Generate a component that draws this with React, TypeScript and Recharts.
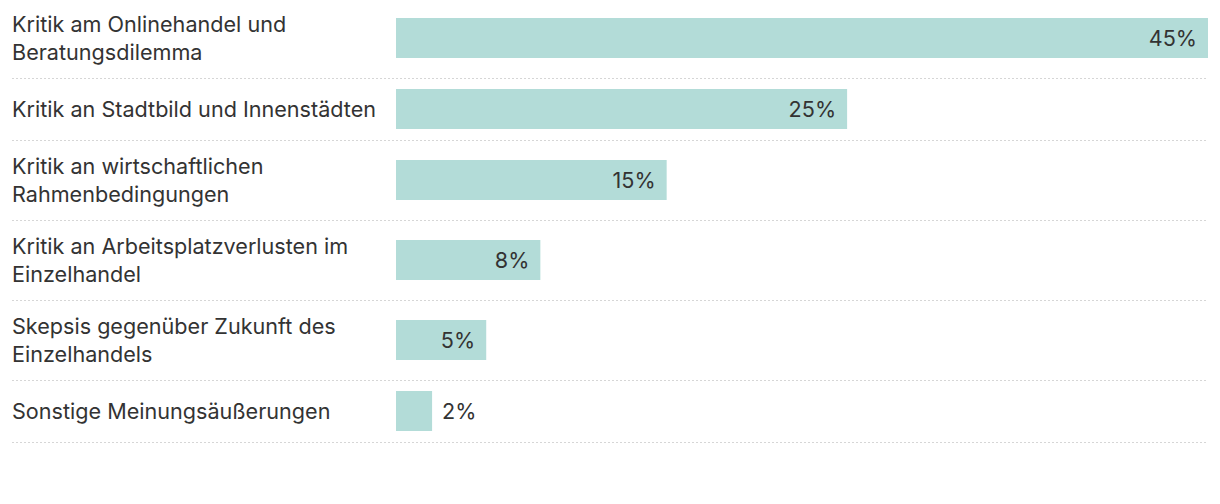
import React from "react";
import { BarChart, Bar, XAxis, YAxis, LabelList } from "recharts";

const categories: string[] = [
  "Kritik am Onlinehandel und\nBeratungsdilemma",
  "Kritik an Stadtbild und Innenstädten",
  "Kritik an wirtschaftlichen\nRahmenbedingungen",
  "Kritik an Arbeitsplatzverlusten im\nEinzelhandel",
  "Skepsis gegenüber Zukunft des\nEinzelhandels",
  "Sonstige Meinungsäußerungen",
];
const values: number[] = [45, 25, 15, 8, 5, 2];
const maxValue = 45;

const BAR_COLOR = "#b3dcd8";
const TEXT_COLOR = "#333333";
const FONT = "Inter, 'Noto Sans', sans-serif";
const FONT_SIZE = 21.6;
const LINE_H = 28;
const WIDTH = 1220;

const CategoryTick = (props: any) => {
  const { y, payload } = props;
  const lines = String(payload.value).split("\n");
  const first = -((lines.length - 1) / 2) * LINE_H;
  return (
    <text x={12} y={y} fill={TEXT_COLOR} fontSize={FONT_SIZE} fontFamily={FONT} textAnchor="start">
      {lines.map((l, i) => (
        <tspan key={i} x={12} dy={i === 0 ? first + 7.5 : LINE_H}>
          {l}
        </tspan>
      ))}
    </text>
  );
};

const ValueLabel = (props: any) => {
  const { x, y, width, height, value } = props;
  const inside = width > 60;
  const tx = inside ? x + width - 11 : x + width + 10;
  return (
    <text
      x={tx}
      y={y + height / 2 + 7.5}
      fill={TEXT_COLOR}
      fontSize={FONT_SIZE}
      fontFamily={FONT}
      textAnchor={inside ? "end" : "start"}
    >
      {value}%
    </text>
  );
};

const Row = ({ name, value }: { name: string; value: number }) => {
  const twoLine = name.includes("\n");
  const h = twoLine ? 80 : 62;
  return (
    <div style={{ position: "relative", height: h, width: WIDTH }}>
      <BarChart
        width={WIDTH}
        height={h}
        data={[{ name, value }]}
        layout="vertical"
        margin={{ top: 0, right: 12, bottom: 0, left: 0 }}
      >
        <XAxis type="number" domain={[0, maxValue]} hide />
        <YAxis
          type="category"
          dataKey="name"
          width={396}
          axisLine={false}
          tickLine={false}
          tick={<CategoryTick />}
          interval={0}
        />
        <Bar dataKey="value" fill={BAR_COLOR} barSize={40} isAnimationActive={false}>
          <LabelList dataKey="value" content={<ValueLabel />} />
        </Bar>
      </BarChart>
      <div
        style={{
          position: "absolute",
          left: 12,
          right: 12,
          bottom: -1,
          height: 1,
          backgroundImage: "repeating-linear-gradient(to right, #d6d6d6 0px, #d6d6d6 2px, transparent 2px, transparent 4px)",
        }}
      />
    </div>
  );
};

export default function App() {
  return (
    <div
      style={{
        position: "absolute",
        top: -2,
        left: 0,
        width: WIDTH,
        height: 506,
        background: "#ffffff",
        fontFamily: FONT,
      }}
    >
      {categories.map((c, i) => (
        <Row key={i} name={c} value={values[i]} />
      ))}
    </div>
  );
}
